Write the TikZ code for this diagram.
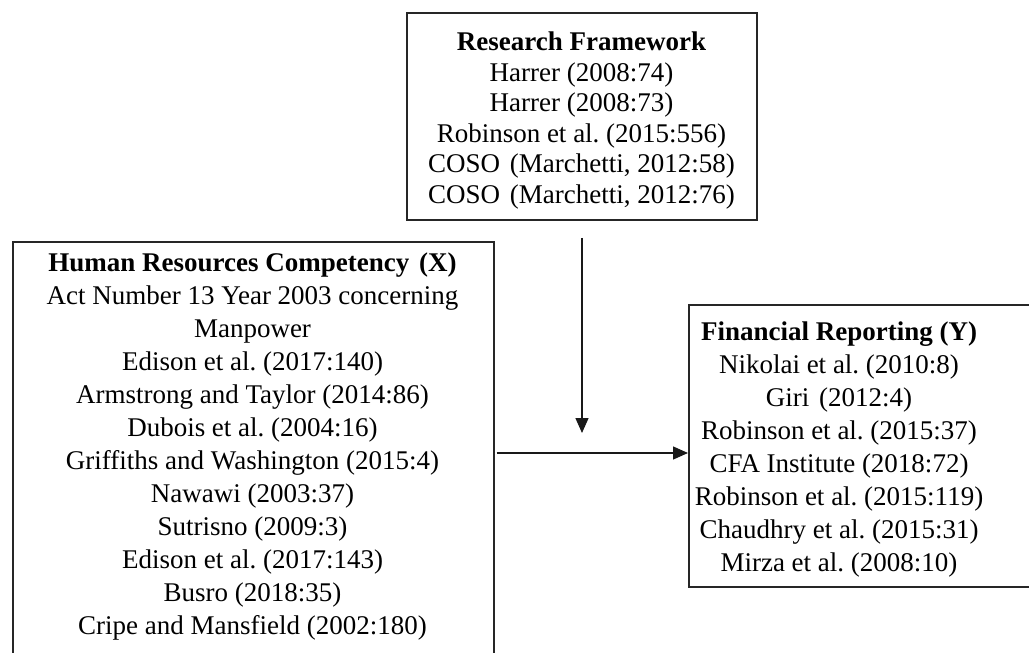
\documentclass[tikz,border=0pt]{standalone}
\usepackage{fontspec}
\setmainfont{Liberation Serif}
\usetikzlibrary{arrows.meta}
\newcommand{\xgap}{\ \kern3pt}
\begin{document}
\frenchspacing
\begin{tikzpicture}[x=1pt,y=-1pt,
  box/.style={draw=black!85, line width=1.5pt, inner sep=0pt},
  txt/.style={align=center, inner sep=0pt, anchor=north, font=\fontsize{27}{33}\selectfont},
  arr/.style={line width=1.4pt, draw=black!90, -{Triangle[length=15pt,width=13pt]}}]
\useasboundingbox (0,0) rectangle (1029,653);
\clip (0,0) rectangle (1029,653);
% boxes
\node[box, minimum width=350pt, minimum height=207pt] (rfbox) at (582,116.5) {};
\node[box, minimum width=481pt, minimum height=450pt, anchor=north west] (hrbox) at (12,241) {};
\node[box, minimum width=400pt, minimum height=282pt, anchor=north west] (frbox) at (688,304) {};
% texts
\node[txt, font=\fontsize{27}{30.5}\selectfont] (rf) at (581.5,32)
  {\textbf{Research Framework}\\Harrer (2008:74)\\Harrer (2008:73)\\Robinson et al. (2015:556)\\COSO\xgap(Marchetti, 2012:58)\\COSO\xgap(Marchetti, 2012:76)};
\node[txt] (hr) at (252.5,253)
  {\textbf{Human Resources Competency\xgap(X)}\\Act Number 13 Year 2003 concerning\\Manpower\\Edison et al. (2017:140)\\Armstrong and Taylor (2014:86)\\Dubois et al. (2004:16)\\Griffiths and Washington (2015:4)\\Nawawi (2003:37)\\Sutrisno (2009:3)\\Edison et al. (2017:143)\\Busro (2018:35)\\Cripe and Mansfield (2002:180)};
\node[txt] (fr) at (839,322)
  {\textbf{Financial Reporting (Y)}\\Nikolai et al. (2010:8)\\Giri\xgap(2012:4)\\Robinson et al. (2015:37)\\CFA Institute (2018:72)\\Robinson et al. (2015:119)\\Chaudhry et al. (2015:31)\\Mirza et al. (2008:10)};
% connectors
\coordinate (vtip) at (582,433);
\coordinate (hy) at (0,453);
\draw[arr] ([yshift=-17pt]rfbox.south) -- (vtip);
\draw[arr] ([xshift=2pt]hrbox.east |- hy) -- (frbox.west |- hy);
\end{tikzpicture}
\end{document}
